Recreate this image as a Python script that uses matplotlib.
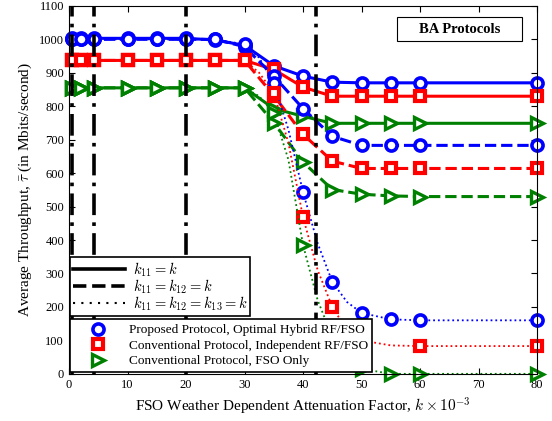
import numpy as np
import matplotlib
matplotlib.use('Agg')
import matplotlib.pyplot as plt
from matplotlib.lines import Line2D
from matplotlib.patches import Rectangle

plt.rcParams['font.family'] = ['Liberation Serif', 'DejaVu Serif']
plt.rcParams['mathtext.fontset'] = 'cm'

#attenuation factor values (x axis)
k = [0.43, 2, 4.2, 10, 15, 20, 25, 30, 35, 40, 45, 50, 55, 60, 80]
#finer grid used by the k11=k12=k13=k curves
k_dot = [0.43, 2, 4.2, 10, 15, 20, 25, 30, 32.5, 35, 37.5, 40, 42.5, 45, 47.5, 50, 55, 60, 80]

#k11 = k (solid)
blue_solid = [1003, 1003, 1003, 1003, 1003, 1003, 998, 982, 921, 890, 872, 870, 870, 870, 870]
red_solid = [937, 937, 937, 937, 937, 937, 937, 937, 910, 857, 830, 830, 830, 830, 830]
green_solid = [855, 855, 855, 855, 855, 855, 855, 855, 793, 770, 749, 749, 749, 749, 749]

#k11 = k12 = k (dashed)
blue_dash = [1000, 1000, 1000, 1000, 1000, 1000, 1000, 978, 890, 793, 710, 683, 683, 683, 683]
red_dash = [937, 937, 937, 937, 937, 937, 937, 937, 832, 716, 636, 614, 614, 614, 614]
green_dash = [855, 855, 855, 855, 855, 855, 855, 855, 751, 633, 551, 537, 532, 530, 530]

#k11 = k12 = k13 = k (dotted)
blue_dot = [1000, 1000, 1000, 1000, 1000, 1000, 1000, 985, 945, 870, 730, 543, 390, 275, 215, 182, 163, 160, 160]
red_dot = [937, 937, 937, 937, 937, 937, 937, 937, 900, 840, 690, 468, 310, 200, 130, 100, 85, 83, 83]
green_dot = [855, 855, 855, 855, 855, 855, 855, 855, 830, 780, 640, 385, 220, 110, 45, 15, 0, 0, 0]
dot_marks = [0, 1, 2, 3, 4, 5, 6, 7, 9, 11, 13, 15, 16, 17, 18]
red_dot_marks = [0, 1, 2, 3, 4, 5, 6, 7, 9, 11, 13, 15, 17, 18]

#weather conditions (vertical lines)
weather_k = [0.43, 4.2, 20, 42.2]

labels = ["Proposed Protocol, Optimal Hybrid RF/FSO",
          "Conventional Protocol, Independent RF/FSO",
          "Conventional Protocol, FSO Only"]
style_labels = [r"$k_{11} = k$", r"$k_{11} = k_{12} = k$", r"$k_{11} = k_{12} = k_{13} = k$"]

blue = (0, 0, 1)
red = (1, 0, 0)
green = (0, 0.5, 0)

fig = plt.figure(figsize=(5.52, 4.21), dpi=100)
ax = fig.add_axes([0.125, 0.112, 0.848, 0.874])

#marker styles for each protocol
mk = {'blue': dict(marker='o', ms=8, mew=2.6, mfc='white'),
      'red': dict(marker='s', ms=7.5, mew=3, mfc='white'),
      'green': dict(marker='>', ms=9, mew=2.4, mfc='white')}

#solid curves
ax.plot(k, blue_solid, '-', color=blue, lw=2.2, mec=blue, clip_on=False, **mk['blue'])
ax.plot(k, red_solid, '-', color=red, lw=2.2, mec=red, clip_on=False, **mk['red'])
ax.plot(k, green_solid, '-', color=green, lw=2.2, mec=green, clip_on=False, **mk['green'])

#dashed curves
ax.plot(k, blue_dash, '--', color=blue, lw=2.2, mec=blue, clip_on=False, **mk['blue'])
ax.plot(k, red_dash, '--', color=red, lw=2.2, mec=red, clip_on=False, **mk['red'])
ax.plot(k, green_dash, '--', color=green, lw=2.2, mec=green, clip_on=False, **mk['green'])

#dotted curves
ax.plot(k_dot, blue_dot, ':', color=blue, lw=1.3, mec=blue, markevery=dot_marks, clip_on=False, **mk['blue'])
ax.plot(k_dot, red_dot, ':', color=red, lw=1.3, mec=red, markevery=red_dot_marks, clip_on=False, **mk['red'])
ax.plot(k_dot, green_dot, ':', color=green, lw=1.3, mec=green, markevery=dot_marks, clip_on=False, **mk['green'])

#vertical weather lines
for wk in weather_k:
    ax.axvline(wk, color='black', linestyle=(0, (6, 2, 1, 2)), lw=2.6, zorder=3)

ax.set_xlim(0, 80)
ax.set_ylim(0, 1100)
ax.set_xticks(np.arange(0, 81, 10))
ax.set_yticks(np.arange(0, 1101, 100))
ax.tick_params(direction='in', top=True, right=True, labelsize=9, length=4, width=0.8)
ax.set_xlabel(r"FSO Weather Dependent Attenuation Factor, $k \times 10^{-3}$", fontsize=11)
ax.set_ylabel(r"Average Throughput, $\bar{\tau}$ (in Mbits/second)", fontsize=11)

#legend for line styles
style_handles = [Line2D([], [], color='black', lw=2.6, ls='-'),
                 Line2D([], [], color='black', lw=2.6, ls='--'),
                 Line2D([], [], color='black', lw=1.5, ls=(0, (1, 3)))]
leg1 = ax.legend(style_handles, style_labels, loc='lower left', bbox_to_anchor=(0.002, 0.158),
                 borderaxespad=0, fancybox=False, edgecolor='black', framealpha=1,
                 fontsize=10.5, handlelength=3.6, labelspacing=-0.1, borderpad=0.2, handletextpad=0.5)
leg1.get_frame().set_linewidth(1.2)
ax.add_artist(leg1)

#legend for protocols
prot_handles = [Line2D([], [], ls='none', color=blue, mec=blue, **mk['blue']),
                Line2D([], [], ls='none', color=red, mec=red, **mk['red']),
                Line2D([], [], ls='none', color=green, mec=green, **mk['green'])]
leg2 = ax.legend(prot_handles, labels, loc='lower left', bbox_to_anchor=(0.002, 0.005),
                 borderaxespad=0, fancybox=False, edgecolor='black', framealpha=1,
                 fontsize=9.5, handlelength=3.6, labelspacing=0.25, borderpad=0.35, handletextpad=0.5)
leg2.get_frame().set_linewidth(1.2)

#title box
ax.add_patch(Rectangle((0.701, 0.905), 0.267, 0.065, transform=ax.transAxes,
                       fc='white', ec='black', lw=0.8, zorder=6))
ax.text(0.835, 0.937, "BA Protocols", transform=ax.transAxes, fontsize=10.5, fontweight='bold',
        ha='center', va='center', zorder=7)

plt.savefig('out.png', dpi=100)
